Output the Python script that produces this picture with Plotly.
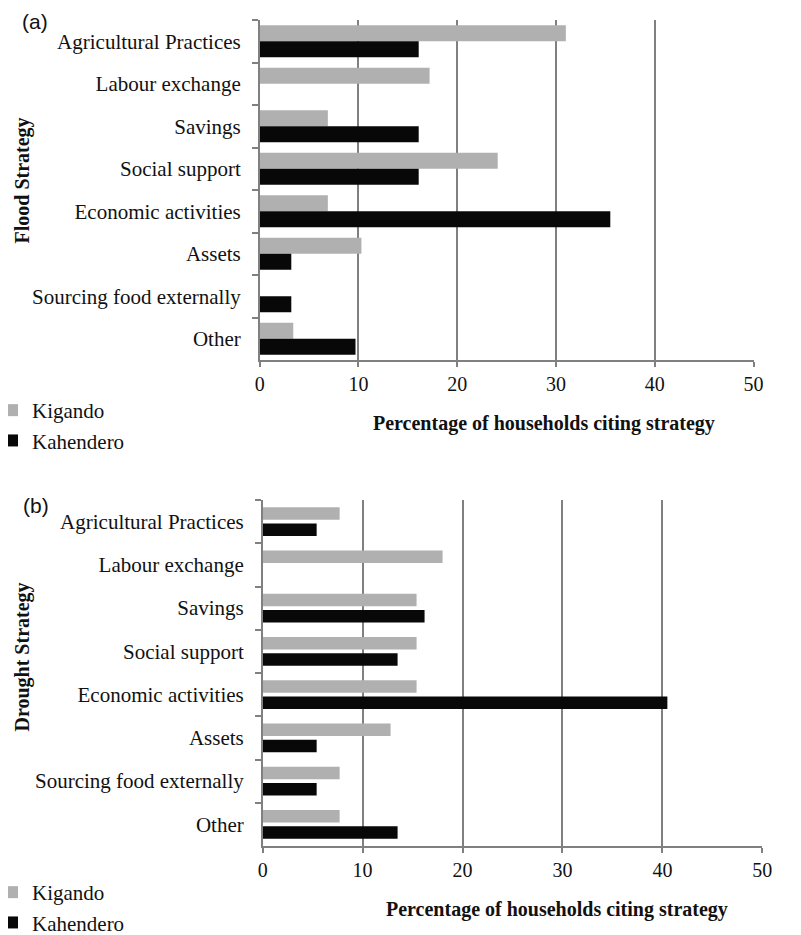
import plotly.graph_objects as go

categories = ["Agricultural Practices", "Labour exchange", "Savings", "Social support",
              "Economic activities", "Assets", "Sourcing food externally", "Other"]
flood_kigando = [31.0, 17.2, 6.9, 24.1, 6.9, 10.3, 0, 3.4]
flood_kahendero = [16.1, 0, 16.1, 16.1, 35.5, 3.2, 3.2, 9.7]
drought_kigando = [7.7, 18.0, 15.4, 15.4, 15.4, 12.8, 7.7, 7.7]
drought_kahendero = [5.4, 0, 16.2, 13.5, 40.5, 5.4, 5.4, 13.5]
x_ticks = [0, 10, 20, 30, 40, 50]
series_names = ["Kigando", "Kahendero"]

W, H = 801, 935
L, R, T, B = 40, 0, 0, 40
OFF = 8  # page (body) offset of the plot div
GREY = "#b0b0b0"
BLACK = "#080808"
LINE = "#808080"
SERIF = "Liberation Serif"
TXT = "#111111"


def px(x):
    return (x - OFF - L) / (W - L - R)


def py(y):
    return (H - B - (y - OFF)) / (H - T - B)


fig = go.Figure()

fig.add_trace(go.Bar(y=categories, x=flood_kigando, orientation="h", name=series_names[0],
                     marker=dict(color=GREY, line=dict(width=0)), xaxis="x", yaxis="y",
                     legend="legend"))
fig.add_trace(go.Bar(y=categories, x=flood_kahendero, orientation="h", name=series_names[1],
                     marker=dict(color=BLACK, line=dict(width=0)), xaxis="x", yaxis="y",
                     legend="legend"))
fig.add_trace(go.Bar(y=categories, x=drought_kigando, orientation="h", name=series_names[0],
                     marker=dict(color=GREY, line=dict(width=0)), xaxis="x2", yaxis="y2",
                     legend="legend2", offsetgroup="a", width=0.29))
fig.add_trace(go.Bar(y=categories, x=drought_kahendero, orientation="h", name=series_names[1],
                     marker=dict(color=BLACK, line=dict(width=0)), xaxis="x2", yaxis="y2",
                     legend="legend2", offsetgroup="b", width=0.29))

xcommon = dict(range=[0, 50], tickvals=x_ticks, showgrid=True, gridcolor=LINE, gridwidth=1.5,
               showline=True, linecolor=LINE, linewidth=1.5, ticks="outside", ticklen=5,
               tickcolor=LINE, tickwidth=1.5, zeroline=False,
               tickfont=dict(family=SERIF, size=20, color=TXT), fixedrange=True)
ycommon = dict(type="category", autorange="reversed", showline=True, linecolor=LINE, linewidth=1.5,
               ticks="outside", ticklen=6, tickcolor=LINE, tickwidth=1.5, tickson="boundaries",
               showgrid=False, tickfont=dict(family=SERIF, size=21, color=TXT),
               ticklabelstandoff=13, fixedrange=True)

legend_common = dict(xanchor="left", yanchor="top", font=dict(family=SERIF, size=21, color=TXT),
                     bgcolor="rgba(0,0,0,0)", tracegroupgap=0, itemwidth=30)

fig.update_layout(
    width=W, height=H,
    margin=dict(l=L, r=R, t=T, b=B, autoexpand=False),
    paper_bgcolor="white", plot_bgcolor="white",
    barmode="group", bargap=0.25, bargroupgap=0,
    xaxis=dict(domain=[px(259.7), px(753.5)], anchor="y", **xcommon),
    yaxis=dict(domain=[py(360), py(20)], anchor="x", **ycommon),
    xaxis2=dict(domain=[px(262.7), px(762.3)], anchor="y2", **xcommon),
    yaxis2=dict(domain=[py(846), py(500)], anchor="x2", **ycommon),
    legend=dict(x=px(-8), y=py(390), **legend_common),
    legend2=dict(x=px(-8), y=py(872), **legend_common),
    showlegend=True,
)

annots = [
    dict(text="(a)", x=px(35), y=py(21), font=dict(family="Liberation Sans", size=21, color=TXT)),
    dict(text="(b)", x=px(35.5), y=py(505), font=dict(family="Liberation Sans", size=21, color=TXT)),
    dict(text="<b>Flood Strategy</b>", x=px(22), y=py(180.5), textangle=-90,
         font=dict(family=SERIF, size=20, color=TXT)),
    dict(text="<b>Drought Strategy</b>", x=px(22), y=py(657.5), textangle=-90,
         font=dict(family=SERIF, size=20, color=TXT)),
    dict(text="<b>Percentage of households citing strategy</b>", x=px(543.5), y=py(423),
         font=dict(family=SERIF, size=20, color=TXT)),
    dict(text="<b>Percentage of households citing strategy</b>", x=px(557), y=py(910),
         font=dict(family=SERIF, size=20, color=TXT)),
]
for a in annots:
    fig.add_annotation(xref="paper", yref="paper", xanchor="center", yanchor="middle",
                       showarrow=False, **a)

fig.write_html("out.html")
